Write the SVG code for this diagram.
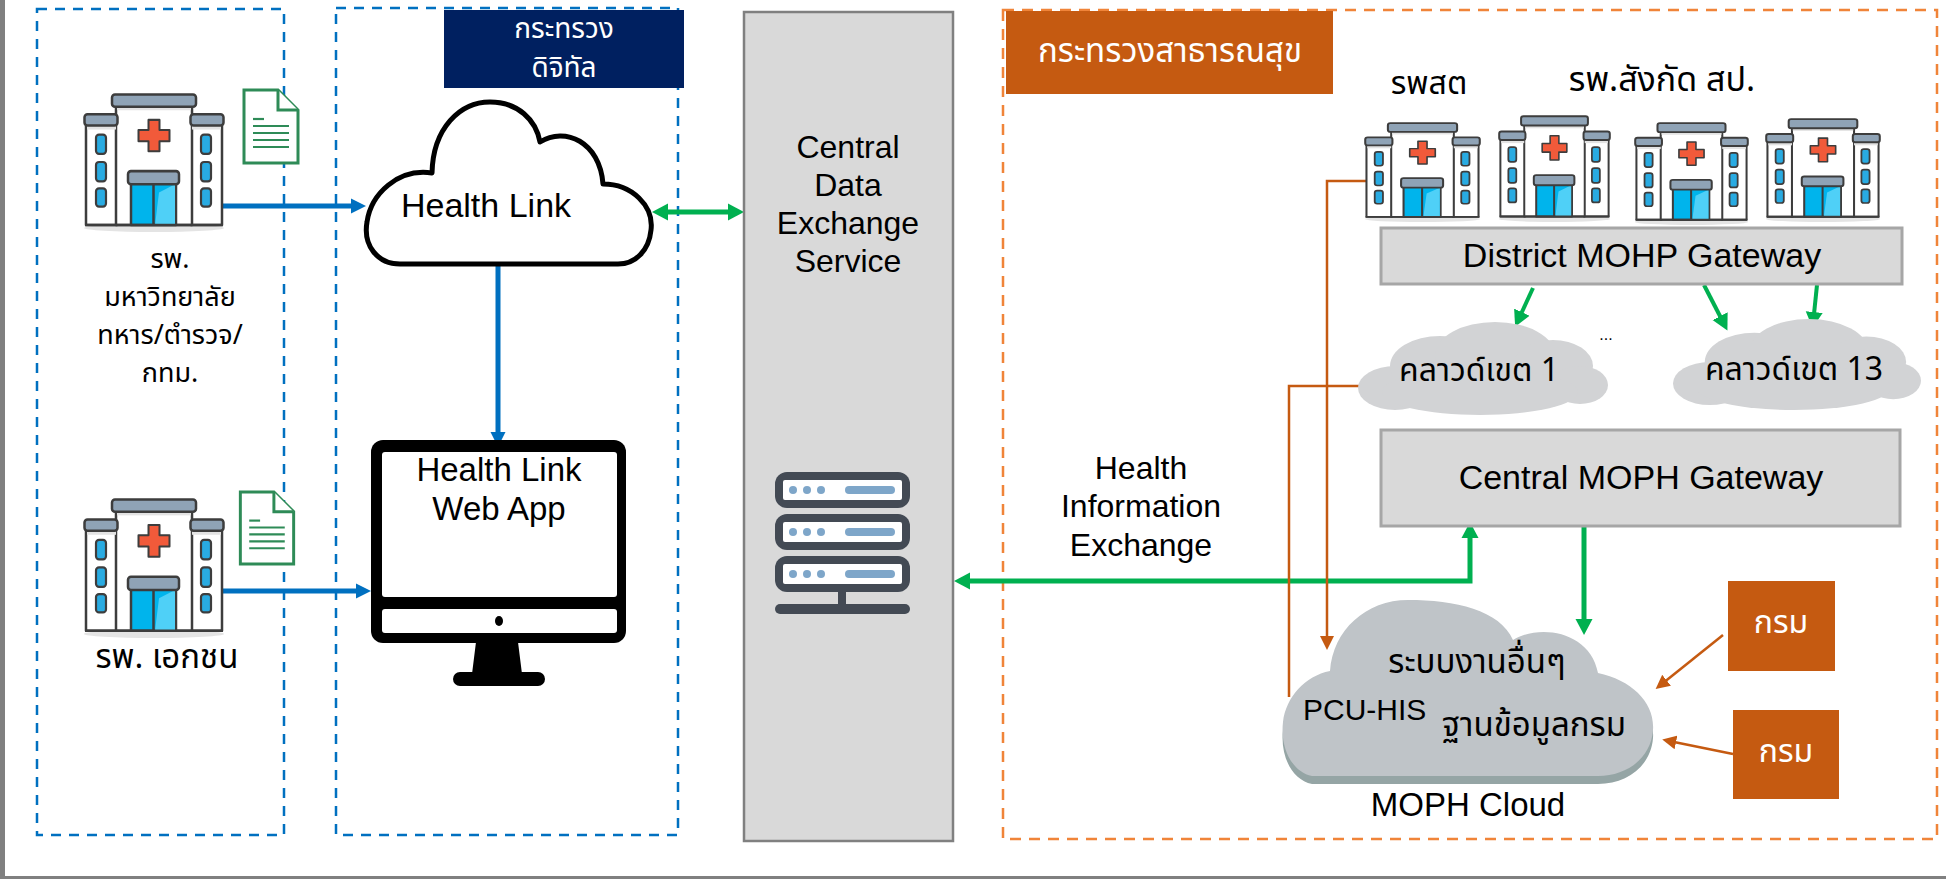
<svg xmlns="http://www.w3.org/2000/svg" xmlns:xlink="http://www.w3.org/1999/xlink" width="1946" height="879" viewBox="0 0 1946 879">
  <style>
    text { font-family: "Liberation Sans", "Noto Sans Thai", "Noto Sans", sans-serif; fill: #000; }
    .lbl { font-size: 34px; text-anchor: middle; }
    .lbl2 { font-size: 32px; text-anchor: middle; }
    .th { font-family: "Noto Sans Thai", "Noto Sans", sans-serif; font-size: 32px; text-anchor: middle; }
    .th2 { font-family: "Noto Sans Thai", "Noto Sans", sans-serif; font-size: 27px; text-anchor: middle; }
    .wh { fill: #fff; }
    .zoneBlue { fill: none; stroke: #0070c0; stroke-width: 2.5; stroke-dasharray: 10 8; }
    .zoneOrange { fill: none; stroke: #f08439; stroke-width: 2.5; stroke-dasharray: 11 8; }
    .gate { fill: #d9d9d9; stroke: #a6a6a6; stroke-width: 3; }
    .blue { fill: none; stroke: #0070c0; stroke-width: 5; marker-end: url(#ahBlue); }
    .green { fill: none; stroke: #00b050; stroke-width: 5; marker-end: url(#ahGreen); }
    .greenThin { fill: none; stroke: #00b050; stroke-width: 4; marker-end: url(#ahGreen); }
    .orange { fill: none; stroke: #c55a11; stroke-width: 2.5; marker-end: url(#ahOrange); }
  </style>
  <defs>
    <marker id="ahBlue" markerUnits="userSpaceOnUse" markerWidth="16" markerHeight="16" refX="2" refY="8" orient="auto-start-reverse">
      <path d="M0,0.5 L15,8 L0,15.5 z" fill="#0070c0"/>
    </marker>
    <marker id="ahGreen" markerUnits="userSpaceOnUse" markerWidth="17" markerHeight="18" refX="2" refY="9" orient="auto-start-reverse">
      <path d="M0,0.5 L16,9 L0,17.5 z" fill="#00b050"/>
    </marker>
    <marker id="ahOrange" markerUnits="userSpaceOnUse" markerWidth="15" markerHeight="14" refX="2" refY="7" orient="auto-start-reverse">
      <path d="M0,0 L14,7 L0,14 z" fill="#c55a11"/>
    </marker>

    <!-- hospital building -->
    <symbol id="hosp" viewBox="0 0 142 137" preserveAspectRatio="none">
      <ellipse cx="71" cy="133" rx="70" ry="4" fill="#e4e4e4"/>
      <g stroke="#3d3d3d" stroke-width="2.5" stroke-linejoin="round">
        <rect x="3" y="30" width="31" height="100" fill="#fff"/>
        <rect x="108" y="30" width="31" height="100" fill="#fff"/>
        <rect x="33" y="11" width="76" height="119" fill="#fff"/>
        <rect x="4" y="32" width="29" height="4" fill="#e3e3e3" stroke="none"/>
        <rect x="109" y="32" width="29" height="4" fill="#e3e3e3" stroke="none"/>
        <rect x="34" y="13" width="74" height="4" fill="#e3e3e3" stroke="none"/>
        <rect x="1.5" y="21" width="33" height="11" rx="3" fill="#8fa3b6"/>
        <rect x="107.5" y="21" width="33" height="11" rx="3" fill="#8fa3b6"/>
        <rect x="29" y="1.5" width="84" height="12" rx="3" fill="#8fa3b6"/>
        <g fill="#29abe2" stroke-width="2.2">
          <rect x="13" y="41" width="10" height="19" rx="3"/>
          <rect x="13" y="68" width="10" height="19" rx="3"/>
          <rect x="13" y="94" width="10" height="18" rx="3"/>
          <rect x="118" y="41" width="10" height="19" rx="3"/>
          <rect x="118" y="68" width="10" height="19" rx="3"/>
          <rect x="118" y="94" width="10" height="18" rx="3"/>
        </g>
        <path d="M65.5 26.5 h11 v10 h10 v11 h-10 v10 h-11 v-10 h-10 v-11 h10 z" fill="#f15a3a" stroke-width="2"/>
        <rect x="48" y="88" width="45" height="42" fill="#00b4ec"/>
        <path d="M72 130 L76 98 L92 90 V130 Z" fill="#4fd0f7" stroke="none"/>
        <line x1="70.5" y1="89" x2="70.5" y2="130"/>
        <rect x="45" y="77" width="51" height="13" rx="3" fill="#8fa3b6"/>
        <line x1="2" y1="130" x2="140" y2="130"/>
      </g>
    </symbol>

    <!-- text document -->
    <symbol id="doc" viewBox="0 0 58 77">
      <path d="M2 2 H36 L56 22 V75 H2 Z" fill="#fff" stroke="#2e8b57" stroke-width="3" stroke-linejoin="miter"/>
      <path d="M36 2 V22 H56" fill="#fff" stroke="#2e8b57" stroke-width="3"/>
      <g stroke="#2e8b57" stroke-width="2.2">
        <line x1="11" y1="31" x2="22" y2="31"/>
        <line x1="11" y1="38" x2="47" y2="38"/>
        <line x1="11" y1="45" x2="47" y2="45"/>
        <line x1="11" y1="52" x2="47" y2="52"/>
        <line x1="11" y1="59" x2="47" y2="59"/>
      </g>
    </symbol>

    <!-- soft gray regional cloud -->
    <symbol id="cloudGray" viewBox="0 0 250 93" preserveAspectRatio="none">
      <g fill="#d2d3d5">
        <ellipse cx="37" cy="66" rx="37" ry="22"/>
        <ellipse cx="82" cy="44" rx="50" ry="30"/>
        <ellipse cx="137" cy="33" rx="60" ry="33"/>
        <ellipse cx="195" cy="44" rx="40" ry="26"/>
        <ellipse cx="222" cy="63" rx="28" ry="19"/>
        <ellipse cx="122" cy="70" rx="98" ry="23"/>
      </g>
    </symbol>

    <!-- server rack unit -->
    <g id="rackUnit">
      <rect x="0" y="0" width="135" height="36" rx="12" fill="#434a54"/>
      <rect x="8" y="8" width="119" height="20" rx="2" fill="#fff"/>
      <g fill="#7ea6c9">
        <circle cx="18" cy="18" r="4"/>
        <circle cx="32" cy="18" r="4"/>
        <circle cx="46" cy="18" r="4"/>
        <rect x="70" y="14" width="50" height="8" rx="4"/>
      </g>
    </g>
  </defs>

  <rect width="1946" height="879" fill="#fff"/>
  <rect x="0" y="0" width="5" height="879" fill="#808080"/>
  <rect x="0" y="876" width="1946" height="3" fill="#808080"/>

  <!-- zones -->
  <g id="zone-hospitals">
    <rect class="zoneBlue" x="37" y="9" width="247" height="826"/>
  </g>
  <g id="zone-digital">
    <rect class="zoneBlue" x="336" y="8" width="342" height="827"/>
    <rect x="444" y="10" width="240" height="78" fill="#002060"/>
    <text class="th2 wh" x="564" y="38" style="font-size:28px">กระทรวง</text>
    <text class="th2 wh" x="564" y="77" style="font-size:28px">ดิจิทัล</text>
  </g>
  <g id="zone-moph">
    <rect class="zoneOrange" x="1003" y="10" width="934" height="829"/>
    <rect x="1006" y="11" width="327" height="83" fill="#c55a11"/>
    <text class="th wh" x="1170" y="62" style="font-size:33px">กระทรวงสาธารณสุข</text>
  </g>

  <!-- connectors -->
  <g id="connectors">
    <path class="blue" d="M218 206 H353"/>
    <path class="blue" d="M218 591 H358"/>
    <path class="blue" d="M498 265 V434"/>
    <path class="green" d="M666 212 H730" marker-start="url(#ahGreen)"/>
    <path class="green" d="M968 581 H1470 V536" marker-start="url(#ahGreen)"/>
    <path class="green" d="M1584 526 V621"/>
    <path class="greenThin" d="M1533 288 L1521 314"/>
    <path class="greenThin" d="M1704 285 L1721 318"/>
    <path class="greenThin" d="M1817 285 L1814 314"/>
    <path class="orange" d="M1373 181 H1327 V638"/>
    <path class="orange" d="M1289 697 V386 H1364"/>
    <path class="orange" d="M1723 635 L1665 681.5"/>
    <path class="orange" d="M1733 754 L1674 742"/>
  </g>

  <!-- left hospitals -->
  <g id="hospital-public">
    <use href="#hosp" x="83" y="93" width="142" height="139"/>
    <use href="#doc" x="242" y="88" width="58" height="77"/>
    <text class="th2" x="170" y="268">รพ.</text>
    <text class="th2" x="170" y="306">มหาวิทยาลัย</text>
    <text class="th2" x="170" y="344">ทหาร/ตำรวจ/</text>
    <text class="th2" x="170" y="382">กทม.</text>
  </g>
  <g id="hospital-private">
    <use href="#hosp" x="83" y="498" width="142" height="140"/>
    <use href="#doc" x="238" y="490" width="58" height="76"/>
    <text class="th" x="167" y="668" style="font-size:33px">รพ. เอกชน</text>
  </g>

  <!-- Health Link cloud -->
  <g id="health-link">
    <path d="M400 264 C377 264 363 245 367 222 C371 194 398 168 432 173 C433 128 460 102 490 102 C518 102 536 120 540 142 C565 126 600 142 603 184 C632 184 654 206 651 230 C649 250 636 264 618 264 Z" fill="#fff" stroke="#000" stroke-width="5" stroke-linejoin="round"/>
    <text class="lbl" x="486" y="217">Health Link</text>
  </g>

  <!-- Health Link web app (monitor) -->
  <g id="web-app">
    <rect x="371" y="440" width="255" height="203" rx="12" fill="#000"/>
    <rect x="382" y="452" width="235" height="145" rx="3" fill="#fff"/>
    <rect x="382" y="609" width="235" height="24" rx="3" fill="#fff"/>
    <ellipse cx="499" cy="621" rx="4" ry="5" fill="#000"/>
    <path d="M476 642 H518 L522 674 H472 Z" fill="#000"/>
    <rect x="453" y="672" width="92" height="14" rx="7" fill="#000"/>
    <text class="lbl2" x="499" y="481" style="font-size:33px">Health Link</text>
    <text class="lbl2" x="499" y="520" style="font-size:33px">Web App</text>
  </g>

  <!-- Central Data Exchange Service -->
  <g id="central-data-exchange">
    <rect x="744" y="12" width="209" height="829" fill="#d9d9d9" stroke="#808080" stroke-width="2.5"/>
    <text class="lbl2" x="848" y="158">Central</text>
    <text class="lbl2" x="848" y="196">Data</text>
    <text class="lbl2" x="848" y="234">Exchange</text>
    <text class="lbl2" x="848" y="272">Service</text>
    <use href="#rackUnit" x="775" y="472"/>
    <use href="#rackUnit" x="775" y="514"/>
    <use href="#rackUnit" x="775" y="556"/>
    <rect x="838" y="590" width="8" height="17" fill="#434a54"/>
    <rect x="775" y="604" width="135" height="10" rx="5" fill="#434a54"/>
  </g>

  <g id="hie-label">
    <text class="lbl2" x="1141" y="479">Health</text>
    <text class="lbl2" x="1141" y="517">Information</text>
    <text class="lbl2" x="1141" y="556">Exchange</text>
  </g>

  <!-- provincial hospitals -->
  <g id="moph-hospitals">
    <text class="th" x="1429" y="94">รพสต</text>
    <text class="th" x="1662" y="91" style="font-size:34px">รพ.สังกัด สป.</text>
    <use href="#hosp" x="1364" y="122" width="117" height="100"/>
    <use href="#hosp" x="1498" y="115" width="113" height="107"/>
    <use href="#hosp" x="1634" y="122" width="115" height="103"/>
    <use href="#hosp" x="1765" y="118" width="116" height="104"/>
  </g>

  <g id="district-gateway">
    <rect class="gate" x="1381" y="228" width="521" height="56"/>
    <text class="lbl" x="1642" y="267">District MOHP Gateway</text>
  </g>

  <g id="cloud-region-1">
    <use href="#cloudGray" x="1358" y="322" width="250" height="93"/>
    <text class="th" x="1479" y="381">คลาวด์เขต 1</text>
  </g>
  <g id="cloud-region-13">
    <use href="#cloudGray" x="1673" y="319" width="248" height="91"/>
    <text class="th" x="1794" y="380">คลาวด์เขต 13</text>
  </g>
  <text x="1606" y="340" font-size="16" text-anchor="middle">...</text>

  <g id="central-gateway">
    <rect class="gate" x="1381" y="430" width="519" height="96"/>
    <text class="lbl" x="1641" y="489">Central MOPH Gateway</text>
  </g>

  <!-- MOPH Cloud -->
  <g id="moph-cloud">
    <path transform="translate(0 8)" d="M1312 776 C1292 772 1280 748 1283 722 C1286 697 1305 676 1330 671 C1333 630 1366 600 1408 600 C1455 600 1500 610 1513 640 C1538 624 1590 630 1598 673 C1632 680 1655 703 1653 730 C1651 758 1627 776 1598 776 Z" fill="#95a5a5"/>
    <path d="M1312 776 C1292 772 1280 748 1283 722 C1286 697 1305 676 1330 671 C1333 630 1366 600 1408 600 C1455 600 1500 610 1513 640 C1538 624 1590 630 1598 673 C1632 680 1655 703 1653 730 C1651 758 1627 776 1598 776 Z" fill="#bfc4c8"/>
    <text class="th" x="1477" y="673" style="font-size:33px">ระบบงานอื่นๆ</text>
    <text x="1303" y="720" font-size="30">PCU-HIS</text>
    <text class="th" x="1442" y="736" style="font-size:33px;text-anchor:start">ฐานข้อมูลกรม</text>
    <text class="lbl" x="1468" y="816" style="font-size:33px">MOPH Cloud</text>
  </g>

  <g id="department-1">
    <rect x="1728" y="581" width="107" height="90" fill="#c55a11"/>
    <text class="th wh" x="1781" y="633">กรม</text>
  </g>
  <g id="department-2">
    <rect x="1733" y="710" width="106" height="89" fill="#c55a11"/>
    <text class="th wh" x="1786" y="762">กรม</text>
  </g>
</svg>
